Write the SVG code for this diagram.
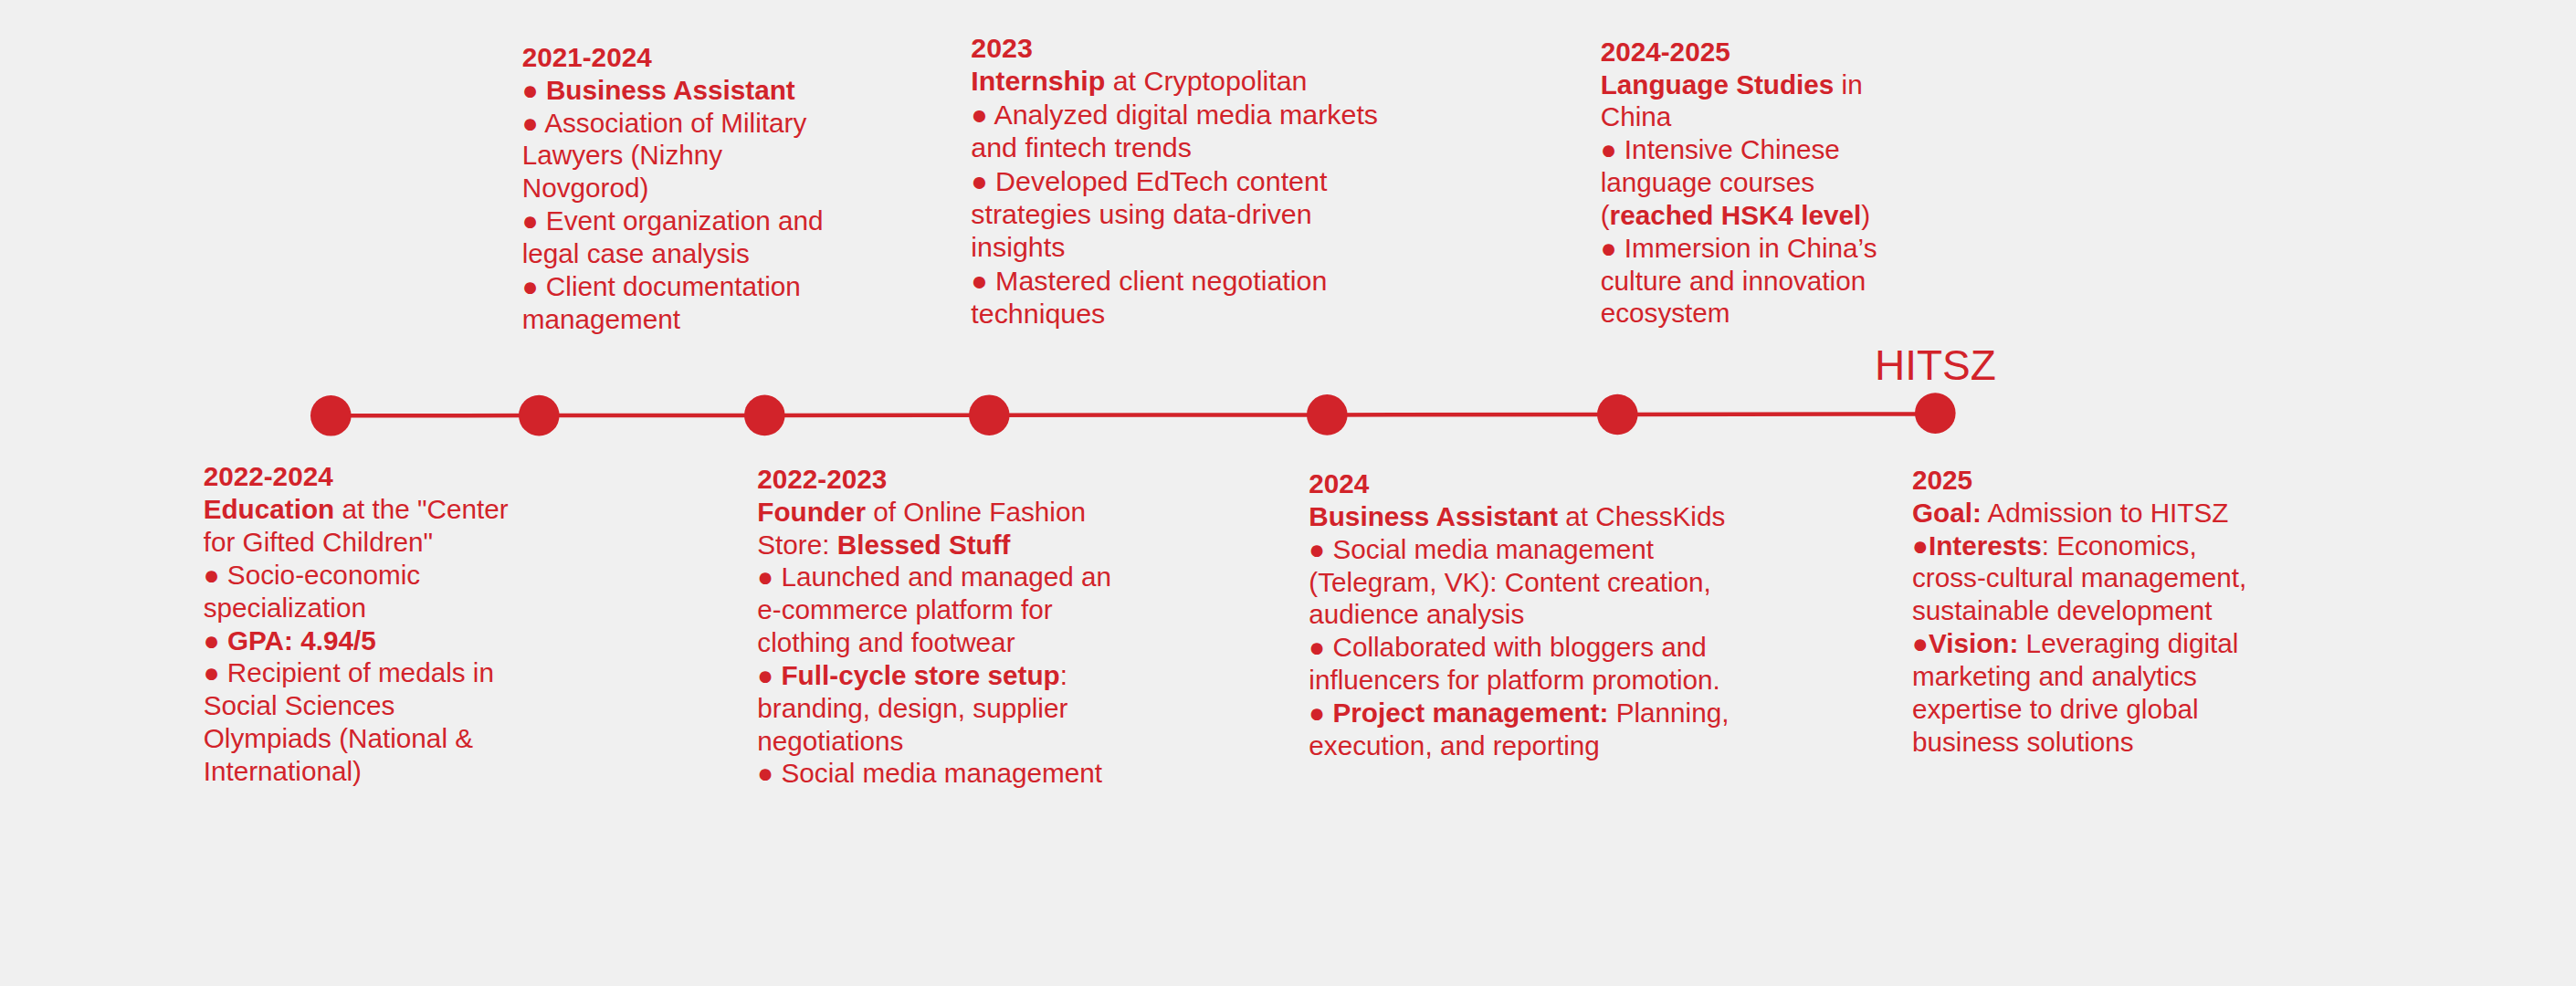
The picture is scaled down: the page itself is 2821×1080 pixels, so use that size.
<svg xmlns="http://www.w3.org/2000/svg" width="2821" height="1080" viewBox="0 0 2821 1080">
<style>
text{font-family:"Liberation Sans",Arial,sans-serif;fill:#D2232A;font-size:29.7px}
.b{font-weight:bold}
.big{font-size:30.4px}
.ttl{font-size:46px}
.dot{fill:#D2232A}
.conn line{stroke:#D2232A;stroke-width:4.5}
</style>
<rect width="2821" height="1080" fill="#F0F0F0"/>
<g id="connectors" class="conn">
<line x1="362" y1="455.3" x2="590" y2="455.1"/>
<line x1="590" y1="455.1" x2="837" y2="454.9"/>
<line x1="837" y1="454.9" x2="1083" y2="454.7"/>
<line x1="1083" y1="454.7" x2="1453" y2="454.4"/>
<line x1="1453" y1="454.4" x2="1771" y2="454"/>
<line x1="1771" y1="454" x2="2119" y2="453.4"/>
</g>
<g id="node-2022-2024">
<circle class="dot" cx="362.3" cy="455.3" r="22.3"/>
<text x="222.7" y="532.3" class="b">2022-2024</text>
<text x="222.7" y="568.2"><tspan class="b">Education</tspan> at the "Center</text>
<text x="222.7" y="604">for Gifted Children"</text>
<text x="222.7" y="639.9">● Socio-economic</text>
<text x="222.7" y="675.7">specialization</text>
<text x="222.7" y="711.6">● <tspan class="b">GPA: 4.94/5</tspan></text>
<text x="222.7" y="747.4">● Recipient of medals in</text>
<text x="222.7" y="783.3">Social Sciences</text>
<text x="222.7" y="819.1">Olympiads (National &amp;</text>
<text x="222.7" y="855">International)</text>
</g>
<g id="node-2021-2024">
<circle class="dot" cx="590.3" cy="455.1" r="22.3"/>
<text x="571.7" y="72.7" class="b">2021-2024</text>
<text x="571.7" y="108.6">● <tspan class="b">Business Assistant</tspan></text>
<text x="571.7" y="144.5">● Association of Military</text>
<text x="571.7" y="180.4">Lawyers (Nizhny</text>
<text x="571.7" y="216.3">Novgorod)</text>
<text x="571.7" y="252.2">● Event organization and</text>
<text x="571.7" y="288.1">legal case analysis</text>
<text x="571.7" y="324">● Client documentation</text>
<text x="571.7" y="360">management</text>
</g>
<g id="node-2022-2023">
<circle class="dot" cx="837.3" cy="454.9" r="22.3"/>
<text x="829.3" y="535" class="b">2022-2023</text>
<text x="829.3" y="570.8"><tspan class="b">Founder</tspan> of Online Fashion</text>
<text x="829.3" y="606.6">Store: <tspan class="b">Blessed Stuff</tspan></text>
<text x="829.3" y="642.4">● Launched and managed an</text>
<text x="829.3" y="678.2">e-commerce platform for</text>
<text x="829.3" y="714">clothing and footwear</text>
<text x="829.3" y="749.8">● <tspan class="b">Full-cycle store setup</tspan>:</text>
<text x="829.3" y="785.7">branding, design, supplier</text>
<text x="829.3" y="821.5">negotiations</text>
<text x="829.3" y="857.3">● Social media management</text>
</g>
<g id="node-2023">
<circle class="dot" cx="1083.3" cy="454.7" r="22.3"/>
<text x="1063.3" y="62.7" class="b big">2023</text>
<text x="1063.3" y="99.1" class="big"><tspan class="b">Internship</tspan> at Cryptopolitan</text>
<text x="1063.3" y="135.6" class="big">● Analyzed digital media markets</text>
<text x="1063.3" y="172" class="big">and fintech trends</text>
<text x="1063.3" y="208.5" class="big">● Developed EdTech content</text>
<text x="1063.3" y="244.9" class="big">strategies using data-driven</text>
<text x="1063.3" y="281.4" class="big">insights</text>
<text x="1063.3" y="317.8" class="big">● Mastered client negotiation</text>
<text x="1063.3" y="354.3" class="big">techniques</text>
</g>
<g id="node-2024">
<circle class="dot" cx="1453.3" cy="454.4" r="22.3"/>
<text x="1433.3" y="540" class="b">2024</text>
<text x="1433.3" y="575.8"><tspan class="b">Business Assistant</tspan> at ChessKids</text>
<text x="1433.3" y="611.7">● Social media management</text>
<text x="1433.3" y="647.5">(Telegram, VK): Content creation,</text>
<text x="1433.3" y="683.3">audience analysis</text>
<text x="1433.3" y="719.1">● Collaborated with bloggers and</text>
<text x="1433.3" y="755">influencers for platform promotion.</text>
<text x="1433.3" y="790.8">● <tspan class="b">Project management:</tspan> Planning,</text>
<text x="1433.3" y="826.7">execution, and reporting</text>
</g>
<g id="node-2024-2025">
<circle class="dot" cx="1771.3" cy="454" r="22.3"/>
<text x="1752.7" y="66.7" class="b">2024-2025</text>
<text x="1752.7" y="102.5"><tspan class="b">Language Studies</tspan> in</text>
<text x="1752.7" y="138.3">China</text>
<text x="1752.7" y="174.1">● Intensive Chinese</text>
<text x="1752.7" y="210">language courses</text>
<text x="1752.7" y="245.8">(<tspan class="b">reached HSK4 level</tspan>)</text>
<text x="1752.7" y="281.6">● Immersion in China’s</text>
<text x="1752.7" y="317.5">culture and innovation</text>
<text x="1752.7" y="353.3">ecosystem</text>
</g>
<g id="node-2025">
<circle class="dot" cx="2119.3" cy="452.6" r="22.3"/>
<text x="2053" y="416" class="ttl">HITSZ</text>
<text x="2094" y="535.7" class="b">2025</text>
<text x="2094" y="571.6"><tspan class="b">Goal:</tspan> Admission to HITSZ</text>
<text x="2094" y="607.5">●<tspan class="b">Interests</tspan>: Economics,</text>
<text x="2094" y="643.3">cross-cultural management,</text>
<text x="2094" y="679.2">sustainable development</text>
<text x="2094" y="715.1">●<tspan class="b">Vision:</tspan> Leveraging digital</text>
<text x="2094" y="751">marketing and analytics</text>
<text x="2094" y="786.8">expertise to drive global</text>
<text x="2094" y="822.7">business solutions</text>
</g>
</svg>
